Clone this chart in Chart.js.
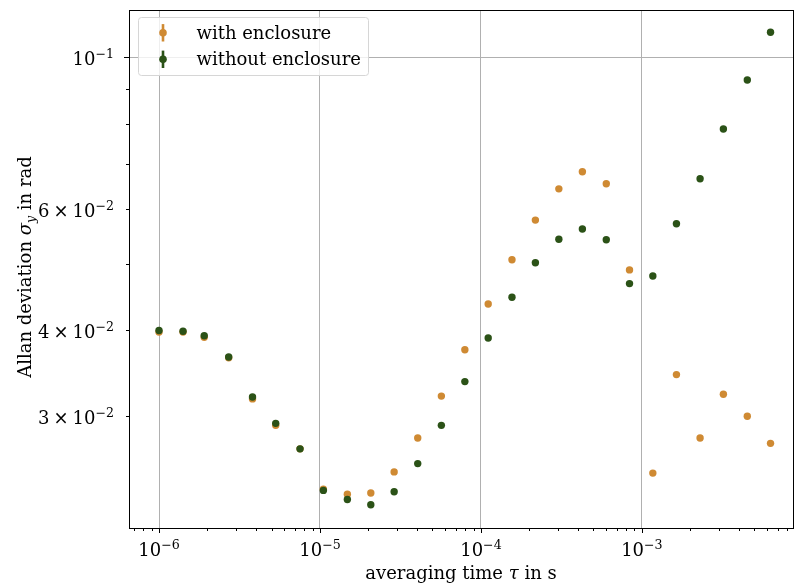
<!DOCTYPE html>
<html>
<head>
<meta charset="utf-8">
<script src="https://cdn.jsdelivr.net/npm/chart.js@4.4.1/dist/chart.umd.min.js"></script>
<style>
  html, body { margin: 0; padding: 0; background: #fff; }
  #wrap { width: 797px; height: 588px; }
</style>
</head>
<body>
<div id="wrap"><canvas id="allanChart" width="797" height="588"></canvas></div>
<script>
// averaging times (s)
const tau = [
    1.0e-6, 1.41e-6, 1.91e-6, 2.71e-6, 3.81e-6, 5.31e-6, 7.52e-6,
    1.05e-5, 1.48e-5, 2.07e-5, 2.89e-5, 4.05e-5, 5.68e-5, 7.95e-5,
    1.11e-4, 1.56e-4, 2.18e-4, 3.05e-4, 4.27e-4, 6.01e-4, 8.38e-4,
    1.17e-3, 1.64e-3, 2.30e-3, 3.21e-3, 4.52e-3, 6.30e-3
];

// Allan deviation with enclosure (rad)
const withEnclosure = [
    0.0398, 0.0398, 0.0391, 0.0365, 0.0318, 0.0291, 0.0269,
    0.0235, 0.0231, 0.0232, 0.0249, 0.0279, 0.0321, 0.0375,
    0.0437, 0.0507, 0.0579, 0.0643, 0.0681, 0.0654, 0.0490,
    0.0248, 0.0345, 0.0279, 0.0323, 0.0300, 0.0274
];

// Allan deviation without enclosure (rad)
const withoutEnclosure = [
    0.0400, 0.0399, 0.0393, 0.0366, 0.0320, 0.0293, 0.0269,
    0.0234, 0.0227, 0.0223, 0.0233, 0.0256, 0.0291, 0.0337,
    0.0390, 0.0447, 0.0502, 0.0543, 0.0562, 0.0542, 0.0468,
    0.0480, 0.0572, 0.0665, 0.0786, 0.0926, 0.1087
];

const SERIES_LABELS = ['with enclosure', 'without enclosure'];
const SERIES_COLORS = ['#cf8a33', '#2b5217'];

const X_MIN = 6.51e-7, X_MAX = 8.69e-3;
const Y_MIN = 0.02063, Y_MAX = 0.1171;

// labelled ticks: [value, mantissa, exponent]
const X_TICK_LABELS = [[1e-6, '', '−6'], [1e-5, '', '−5'], [1e-4, '', '−4'], [1e-3, '', '−3']];
const Y_TICK_LABELS = [[0.1, '', '−1'], [0.06, '6', '−2'], [0.04, '4', '−2'], [0.03, '3', '−2']];

const FONT = '"DejaVu Serif", serif';
const BASE = 18, SUP = 12.6;

function toPoints(ys) {
    return tau.map((t, i) => ({ x: t, y: ys[i] }));
}

// all log ticks (1..9 x 10^k) in range
function logTicks(min, max) {
    const out = [];
    for (let e = Math.floor(Math.log10(min)); e <= Math.ceil(Math.log10(max)); e++) {
        for (let m = 1; m <= 9; m++) {
            const v = parseFloat((m * Math.pow(10, e)).toPrecision(6));
            if (v >= min && v <= max) out.push({ value: v, major: m === 1 });
        }
    }
    return out;
}

function isDecade(v) {
    const l = Math.log10(v);
    return Math.abs(l - Math.round(l)) < 1e-9;
}

// text pieces: [text, font, dy, extra gap after]
function sciParts(mant, exp) {
    const f = BASE + 'px ' + FONT;
    const parts = [];
    if (mant) {
        parts.push([mant, f, 0, 4]);
        parts.push(['×', f, 0, 4]);
    }
    parts.push(['10', f, 0, 0]);
    parts.push([exp, SUP + 'px ' + FONT, -7, 0]);
    return parts;
}

function partsWidth(ctx, parts) {
    let w = 0;
    parts.forEach(p => { ctx.font = p[1]; w += ctx.measureText(p[0]).width + (p[3] || 0); });
    return w;
}

function drawParts(ctx, parts, x, baseY) {
    ctx.textAlign = 'left';
    parts.forEach(p => {
        ctx.font = p[1];
        ctx.fillText(p[0], x, baseY + p[2]);
        x += ctx.measureText(p[0]).width + (p[3] || 0);
    });
}

// frame, tick marks, tick labels, axis titles and legend in matplotlib style
const framePlugin = {
    id: 'frame',
    afterDraw(chart) {
        const ctx = chart.ctx;
        const a = chart.chartArea;
        const xs = chart.scales.x, ys = chart.scales.y;
        ctx.save();
        ctx.strokeStyle = '#000';
        ctx.lineWidth = 1;

        // tick marks
        ctx.beginPath();
        xs.ticks.forEach(t => {
            const px = Math.round(xs.getPixelForValue(t.value)) + 0.5;
            const len = isDecade(t.value) ? 5 : 3;
            ctx.moveTo(px, a.bottom);
            ctx.lineTo(px, a.bottom + len);
        });
        ys.ticks.forEach(t => {
            const py = Math.round(ys.getPixelForValue(t.value)) + 0.5;
            const len = isDecade(t.value) ? 5 : 3;
            ctx.moveTo(a.left, py);
            ctx.lineTo(a.left - len, py);
        });
        ctx.stroke();

        // box
        ctx.strokeRect(Math.round(a.left) + 0.5, Math.round(a.top) + 0.5,
            Math.round(a.right - a.left), Math.round(a.bottom - a.top));

        ctx.fillStyle = '#000';
        ctx.textBaseline = 'alphabetic';

        // tick labels
        X_TICK_LABELS.forEach(([v, m, e]) => {
            const parts = sciParts(m, e);
            const w = partsWidth(ctx, parts);
            drawParts(ctx, parts, xs.getPixelForValue(v) - w / 2, a.bottom + 28);
        });
        Y_TICK_LABELS.forEach(([v, m, e]) => {
            const parts = sciParts(m, e);
            const w = partsWidth(ctx, parts);
            drawParts(ctx, parts, 114 - w, ys.getPixelForValue(v) + 7.5);
        });

        // x title
        const xParts = [
            ['averaging time ', BASE + 'px ' + FONT, 0],
            ['τ', 'italic ' + BASE + 'px ' + FONT, 0],
            [' in s', BASE + 'px ' + FONT, 0]
        ];
        drawParts(ctx, xParts, (a.left + a.right) / 2 - partsWidth(ctx, xParts) / 2, 579);

        // y title (rotated)
        ctx.save();
        ctx.translate(31, (a.top + a.bottom) / 2 - 2);
        ctx.rotate(-Math.PI / 2);
        const yParts = [
            ['Allan deviation ', BASE + 'px ' + FONT, 0],
            ['σ', 'italic ' + BASE + 'px ' + FONT, 0],
            ['y', 'italic ' + SUP + 'px ' + FONT, 3.5],
            [' in rad', BASE + 'px ' + FONT, 0]
        ];
        drawParts(ctx, yParts, -partsWidth(ctx, yParts) / 2, 0);
        ctx.restore();

        // legend
        const lx = 138.5, ly = 17.5, lw = 230, lh = 58;
        ctx.beginPath();
        ctx.roundRect(lx, ly, lw, lh, 3);
        ctx.fillStyle = 'rgba(255,255,255,0.8)';
        ctx.fill();
        ctx.strokeStyle = '#d6d6d6';
        ctx.stroke();
        SERIES_LABELS.forEach((label, i) => {
            const cy = 32.8 + i * 26.5;
            ctx.strokeStyle = SERIES_COLORS[i];
            ctx.fillStyle = SERIES_COLORS[i];
            ctx.lineWidth = 2.6;
            ctx.beginPath();
            ctx.moveTo(163, cy - 8.7);
            ctx.lineTo(163, cy + 8.7);
            ctx.stroke();
            ctx.beginPath();
            ctx.arc(163, cy, 3.8, 0, Math.PI * 2);
            ctx.fill();
            ctx.fillStyle = '#000';
            ctx.font = BASE + 'px ' + FONT;
            ctx.textAlign = 'left';
            ctx.fillText(label, 196.5, 39.2 + i * 26);
        });
        ctx.restore();
    }
};

const ctx = document.getElementById('allanChart').getContext('2d');
const chart = new Chart(ctx, {
    type: 'scatter',
    data: {
        datasets: [{
            label: SERIES_LABELS[0],
            data: toPoints(withEnclosure),
            backgroundColor: SERIES_COLORS[0],
            borderWidth: 0,
            pointRadius: 3.7,
            order: 1
        }, {
            label: SERIES_LABELS[1],
            data: toPoints(withoutEnclosure),
            backgroundColor: SERIES_COLORS[1],
            borderWidth: 0,
            pointRadius: 3.7,
            order: 0
        }]
    },
    options: {
        responsive: false,
        animation: false,
        layout: { padding: { top: 10, right: 1, left: 0, bottom: 0 } },
        plugins: {
            legend: { display: false },
            tooltip: { enabled: false }
        },
        scales: {
            x: {
                type: 'logarithmic',
                min: X_MIN,
                max: X_MAX,
                afterBuildTicks: s => { s.ticks = logTicks(X_MIN, X_MAX); },
                afterFit: s => { s.height = 60; },
                border: { display: false },
                grid: {
                    drawTicks: false,
                    color: c => (c.tick && isDecade(c.tick.value)) ? '#b0b0b0' : 'rgba(0,0,0,0)',
                    lineWidth: 1
                },
                ticks: { display: false, autoSkip: false }
            },
            y: {
                type: 'logarithmic',
                min: Y_MIN,
                max: Y_MAX,
                afterBuildTicks: s => { s.ticks = logTicks(Y_MIN, Y_MAX); },
                afterFit: s => { s.width = 129; },
                border: { display: false },
                grid: {
                    drawTicks: false,
                    color: c => (c.tick && isDecade(c.tick.value)) ? '#b0b0b0' : 'rgba(0,0,0,0)',
                    lineWidth: 1
                },
                ticks: { display: false, autoSkip: false }
            }
        }
    },
    plugins: [framePlugin]
});
</script>
</body>
</html>
